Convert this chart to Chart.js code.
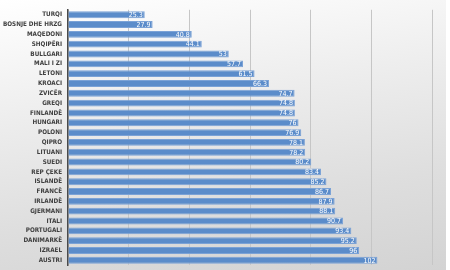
<!DOCTYPE html>
<html>
<head>
<meta charset="utf-8">
<script src="https://cdn.jsdelivr.net/npm/chart.js@4"></script>
<style>
    html, body { margin: 0; padding: 0; background: #fff; overflow: hidden; }
    #wrap {
        width: 446px; height: 270px; overflow: hidden;
        background: linear-gradient(172deg, #ffffff 0%, #eeeeee 35%, #dedede 70%, #d3d3d3 100%);
    }
</style>
</head>
<body>
<div id="wrap"><canvas id="graphCanvas" width="446" height="275"></canvas></div>
<script>
// Kategoritë dhe vlerat
const countries = ['TURQI', 'BOSNJE DHE HRZG', 'MAQEDONI', 'SHQIPËRI', 'BULLGARI', 'MALI I ZI',
    'LETONI', 'KROACI', 'ZVICËR', 'GREQI', 'FINLANDË', 'HUNGARI', 'POLONI', 'QIPRO', 'LITUANI',
    'SUEDI', 'REP ÇEKE', 'ISLANDË', 'FRANCË', 'IRLANDË', 'GJERMANI', 'ITALI', 'PORTUGALI',
    'DANIMARKË', 'IZRAEL', 'AUSTRI'];
const values = [25.3, 27.9, 40.8, 44.1, 53, 57.7, 61.5, 66.3, 74.7, 74.8, 74.8, 76, 76.9, 78.1,
    78.2, 80.2, 83.4, 85.2, 86.7, 87.9, 88.1, 90.7, 93.4, 95.2, 96, 102];
const axisMax = 120;
const axisStep = 20;

// Etiketat e vlerave brenda shiritave
const valueLabels = {
    id: 'valueLabels',
    afterDatasetsDraw(chart) {
        const ctx = chart.ctx;
        const meta = chart.getDatasetMeta(0);
        ctx.save();
        ctx.font = '7px "DejaVu Sans Condensed", sans-serif';
        ctx.fillStyle = '#ffffff';
        ctx.textAlign = 'right';
        ctx.textBaseline = 'middle';
        meta.data.forEach((bar, i) => {
            ctx.fillText(String(values[i]), bar.x - 2, bar.y + 0.5);
        });
        ctx.restore();
    }
};

const ctx = document.getElementById('graphCanvas').getContext('2d');
window.myChart = new Chart(ctx, {
    type: 'bar',
    data: {
        labels: countries,
        datasets: [{
            data: values,
            backgroundColor: '#5b8cca',
            borderColor: '#7ba2d6',
            borderWidth: { top: 1, bottom: 1, left: 0, right: 1 },
            borderSkipped: 'left',
            barPercentage: 0.7,
            categoryPercentage: 1
        }]
    },
    options: {
        indexAxis: 'y',
        responsive: false,
        animation: false,
        layout: { padding: { top: 4, bottom: 3, right: 14, left: 0 } },
        plugins: {
            legend: { display: false },
            tooltip: { enabled: false }
        },
        scales: {
            x: {
                min: 0,
                max: axisMax,
                ticks: { stepSize: axisStep, display: false },
                grid: { color: '#c6c6c6', lineWidth: 1, drawTicks: false },
                border: { display: false },
                afterFit(s) { s.height = 0; }
            },
            y: {
                grid: { display: false, drawTicks: false },
                border: { color: '#4a4a4a', width: 1.5 },
                ticks: {
                    color: '#404040',
                    padding: 6,
                    autoSkip: false,
                    font: { family: '"DejaVu Sans Condensed", sans-serif', size: 6.3, weight: 'bold' }
                },
                afterFit(s) { s.width = 68; }
            }
        }
    },
    plugins: [valueLabels]
});
</script>
</body>
</html>
